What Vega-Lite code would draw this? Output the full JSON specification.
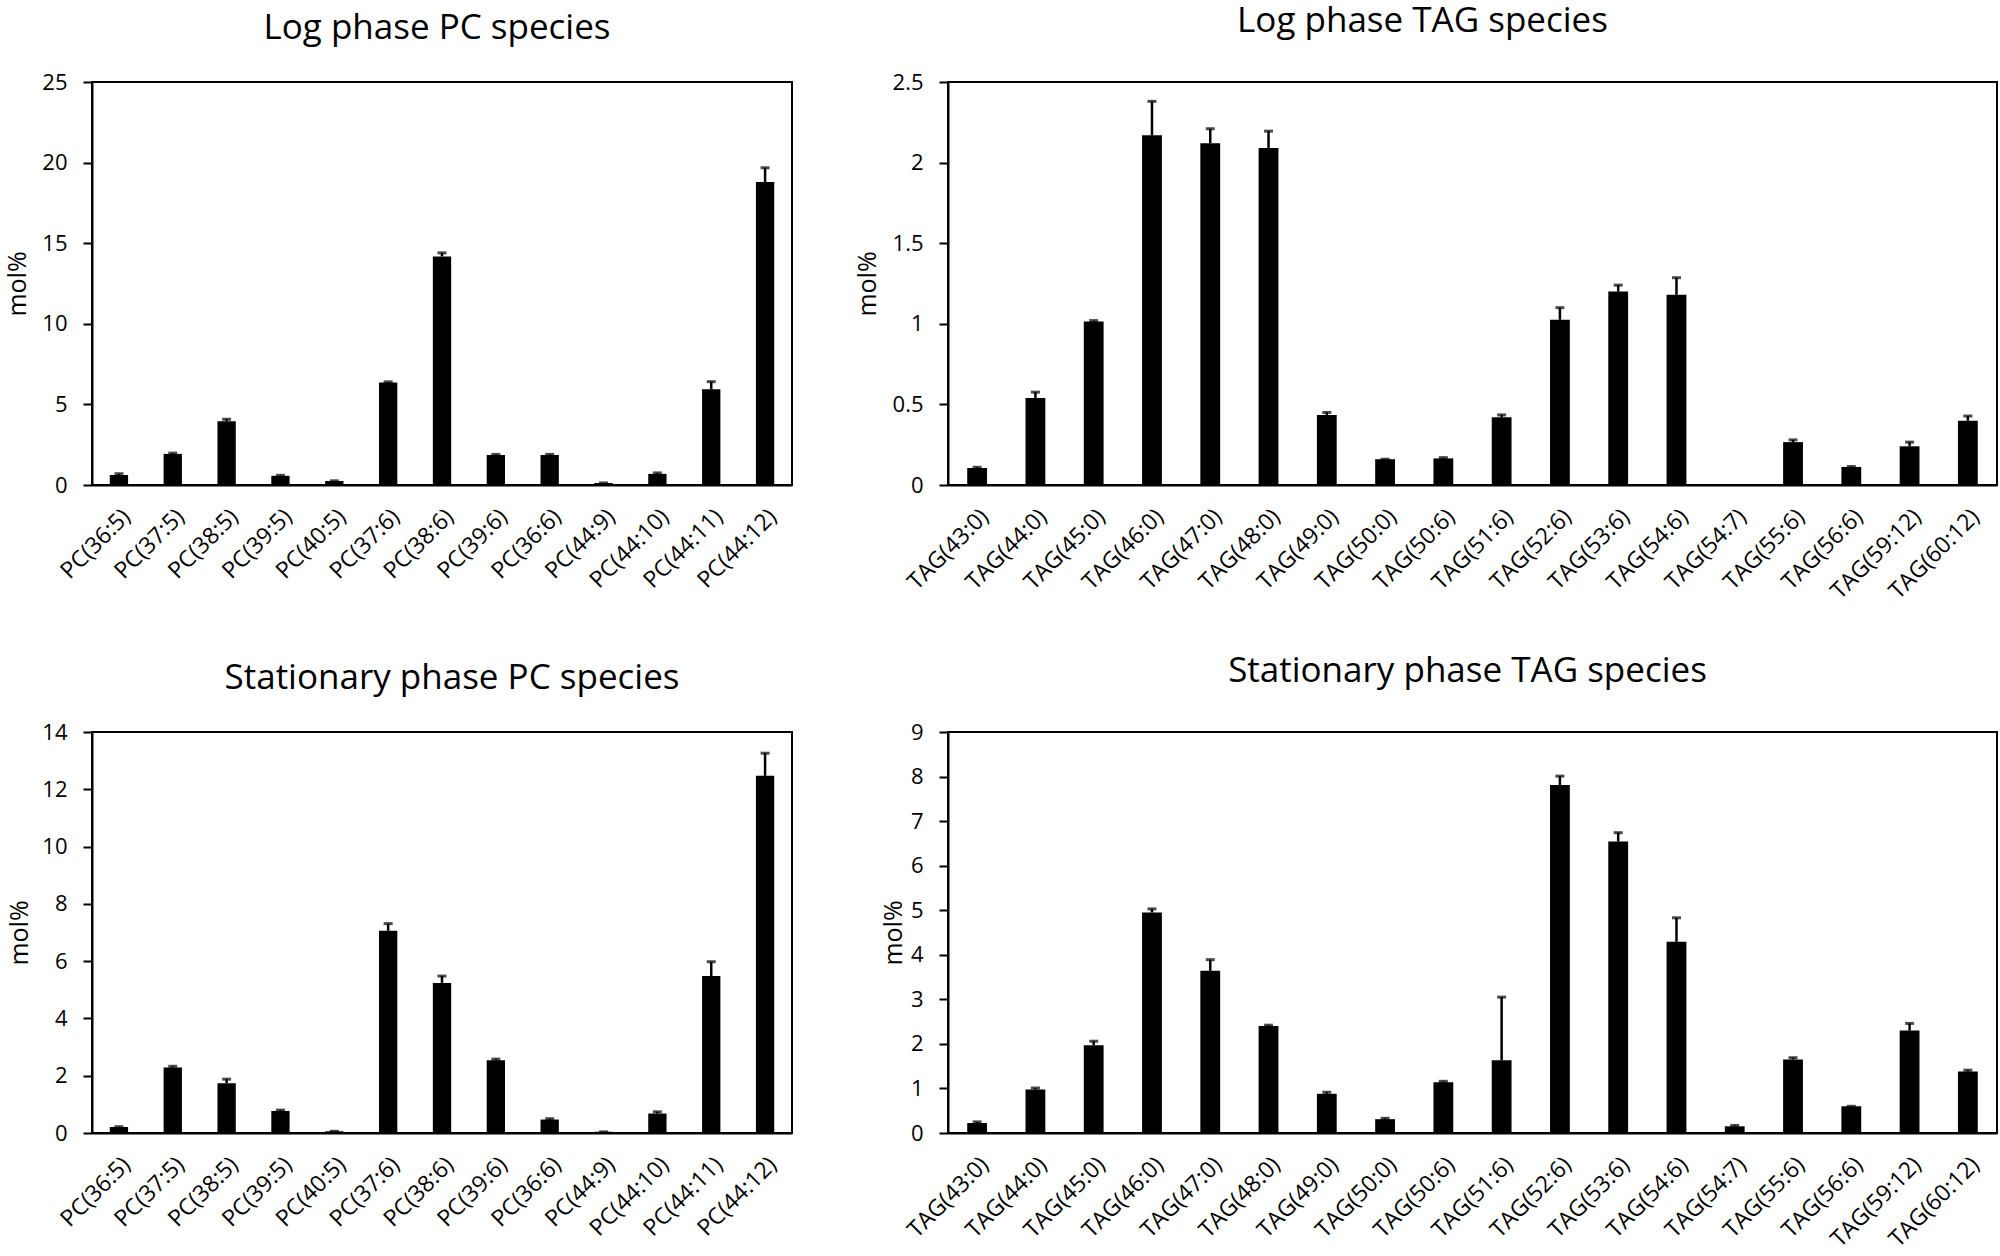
{
  "$schema": "https://vega.github.io/schema/vega-lite/v6.json",
  "background": "white",
  "padding": {"left": 4, "top": 3, "right": 5, "bottom": 5},
  "bounds": "flush",
  "columns": 2,
  "spacing": {"row": 247, "column": 156},
  "datasets": {
    "logPC": [
      {"species": "PC(36:5)", "value": 0.62, "upper": 0.70},
      {"species": "PC(37:5)", "value": 1.93, "upper": 1.98},
      {"species": "PC(38:5)", "value": 3.96, "upper": 4.08},
      {"species": "PC(39:5)", "value": 0.57, "upper": 0.60},
      {"species": "PC(40:5)", "value": 0.25, "upper": 0.26},
      {"species": "PC(37:6)", "value": 6.36, "upper": 6.40},
      {"species": "PC(38:6)", "value": 14.18, "upper": 14.4},
      {"species": "PC(39:6)", "value": 1.86, "upper": 1.90},
      {"species": "PC(36:6)", "value": 1.86, "upper": 1.90},
      {"species": "PC(44:9)", "value": 0.12, "upper": 0.13},
      {"species": "PC(44:10)", "value": 0.69, "upper": 0.75},
      {"species": "PC(44:11)", "value": 5.94, "upper": 6.41},
      {"species": "PC(44:12)", "value": 18.79, "upper": 19.68}
    ],
    "logTAG": [
      {"species": "TAG(43:0)", "value": 0.105, "upper": 0.11},
      {"species": "TAG(44:0)", "value": 0.54, "upper": 0.576},
      {"species": "TAG(45:0)", "value": 1.015, "upper": 1.02},
      {"species": "TAG(46:0)", "value": 2.17, "upper": 2.38},
      {"species": "TAG(47:0)", "value": 2.12, "upper": 2.21},
      {"species": "TAG(48:0)", "value": 2.09, "upper": 2.195},
      {"species": "TAG(49:0)", "value": 0.435, "upper": 0.45},
      {"species": "TAG(50:0)", "value": 0.16, "upper": 0.16},
      {"species": "TAG(50:6)", "value": 0.165, "upper": 0.17},
      {"species": "TAG(51:6)", "value": 0.42, "upper": 0.435},
      {"species": "TAG(52:6)", "value": 1.025, "upper": 1.10},
      {"species": "TAG(53:6)", "value": 1.20, "upper": 1.24},
      {"species": "TAG(54:6)", "value": 1.18, "upper": 1.286},
      {"species": "TAG(54:7)", "value": 0, "upper": 0},
      {"species": "TAG(55:6)", "value": 0.266, "upper": 0.28},
      {"species": "TAG(56:6)", "value": 0.112, "upper": 0.115},
      {"species": "TAG(59:12)", "value": 0.24, "upper": 0.266},
      {"species": "TAG(60:12)", "value": 0.398, "upper": 0.428}
    ],
    "statPC": [
      {"species": "PC(36:5)", "value": 0.21, "upper": 0.22},
      {"species": "PC(37:5)", "value": 2.29, "upper": 2.33},
      {"species": "PC(38:5)", "value": 1.74, "upper": 1.88},
      {"species": "PC(39:5)", "value": 0.77, "upper": 0.80},
      {"species": "PC(40:5)", "value": 0.06, "upper": 0.06},
      {"species": "PC(37:6)", "value": 7.06, "upper": 7.31},
      {"species": "PC(38:6)", "value": 5.24, "upper": 5.48},
      {"species": "PC(39:6)", "value": 2.54, "upper": 2.58},
      {"species": "PC(36:6)", "value": 0.47, "upper": 0.50},
      {"species": "PC(44:9)", "value": 0.04, "upper": 0.04},
      {"species": "PC(44:10)", "value": 0.68, "upper": 0.74},
      {"species": "PC(44:11)", "value": 5.48, "upper": 5.98},
      {"species": "PC(44:12)", "value": 12.47, "upper": 13.26}
    ],
    "statTAG": [
      {"species": "TAG(43:0)", "value": 0.225, "upper": 0.25},
      {"species": "TAG(44:0)", "value": 0.975, "upper": 1.01},
      {"species": "TAG(45:0)", "value": 1.97, "upper": 2.06},
      {"species": "TAG(46:0)", "value": 4.95, "upper": 5.03},
      {"species": "TAG(47:0)", "value": 3.64, "upper": 3.89},
      {"species": "TAG(48:0)", "value": 2.40, "upper": 2.42},
      {"species": "TAG(49:0)", "value": 0.88, "upper": 0.915},
      {"species": "TAG(50:0)", "value": 0.31, "upper": 0.33},
      {"species": "TAG(50:6)", "value": 1.14, "upper": 1.16},
      {"species": "TAG(51:6)", "value": 1.63, "upper": 3.05},
      {"species": "TAG(52:6)", "value": 7.81, "upper": 8.01},
      {"species": "TAG(53:6)", "value": 6.54, "upper": 6.74},
      {"species": "TAG(54:6)", "value": 4.29, "upper": 4.83},
      {"species": "TAG(54:7)", "value": 0.15, "upper": 0.17},
      {"species": "TAG(55:6)", "value": 1.65, "upper": 1.69},
      {"species": "TAG(56:6)", "value": 0.60, "upper": 0.60},
      {"species": "TAG(59:12)", "value": 2.30, "upper": 2.46},
      {"species": "TAG(60:12)", "value": 1.38, "upper": 1.41}
    ]
  },
  "concat": [
    {
      "width": 700, "height": 403,
      "data": {"name": "logPC"},
      "title": {"text": "Log phase PC species", "dx": -5, "offset": 25},
      "encoding": {"x": {"field": "species", "type": "nominal", "sort": null, "title": null, "scale": {"paddingInner": 0.66, "paddingOuter": 0.33}}},
      "layer": [
        {"mark": {"type": "bar", "color": "black"}, "encoding": {"y": {"field": "value", "type": "quantitative", "title": "mol%", "scale": {"domain": [0, 25], "nice": false}, "axis": {"values": [0, 5, 10, 15, 20, 25], "titleX": -75}}}},
        {"transform": [{"filter": "datum.upper > 0"}], "mark": {"type": "rule", "color": "black", "strokeWidth": 2.5}, "encoding": {"y": {"field": "value", "type": "quantitative", "title": "mol%"}, "y2": {"field": "upper"}}},
        {"transform": [{"filter": "datum.upper > 0"}], "mark": {"type": "tick", "color": "black", "size": 9, "thickness": 3}, "encoding": {"y": {"field": "upper", "type": "quantitative", "title": "mol%"}}}
      ]
    },
    {
      "width": 1049, "height": 403,
      "data": {"name": "logTAG"},
      "title": {"text": "Log phase TAG species", "dx": -50, "offset": 32},
      "encoding": {"x": {"field": "species", "type": "nominal", "sort": null, "title": null, "scale": {"paddingInner": 0.66, "paddingOuter": 0.33}}},
      "layer": [
        {"mark": {"type": "bar", "color": "black"}, "encoding": {"y": {"field": "value", "type": "quantitative", "title": "mol%", "scale": {"domain": [0, 2.5], "nice": false}, "axis": {"values": [0, 0.5, 1, 1.5, 2, 2.5], "format": "~g", "titleX": -81}}}},
        {"transform": [{"filter": "datum.upper > 0"}], "mark": {"type": "rule", "color": "black", "strokeWidth": 2.5}, "encoding": {"y": {"field": "value", "type": "quantitative", "title": "mol%"}, "y2": {"field": "upper"}}},
        {"transform": [{"filter": "datum.upper > 0"}], "mark": {"type": "tick", "color": "black", "size": 9, "thickness": 3}, "encoding": {"y": {"field": "upper", "type": "quantitative", "title": "mol%"}}}
      ]
    },
    {
      "width": 700, "height": 401,
      "data": {"name": "statPC"},
      "title": {"text": "Stationary phase PC species", "dx": 10, "offset": 25},
      "encoding": {"x": {"field": "species", "type": "nominal", "sort": null, "title": null, "scale": {"paddingInner": 0.66, "paddingOuter": 0.33}}},
      "layer": [
        {"mark": {"type": "bar", "color": "black"}, "encoding": {"y": {"field": "value", "type": "quantitative", "title": "mol%", "scale": {"domain": [0, 14], "nice": false}, "axis": {"values": [0, 2, 4, 6, 8, 10, 12, 14], "titleX": -73}}}},
        {"transform": [{"filter": "datum.upper > 0"}], "mark": {"type": "rule", "color": "black", "strokeWidth": 2.5}, "encoding": {"y": {"field": "value", "type": "quantitative", "title": "mol%"}, "y2": {"field": "upper"}}},
        {"transform": [{"filter": "datum.upper > 0"}], "mark": {"type": "tick", "color": "black", "size": 9, "thickness": 3}, "encoding": {"y": {"field": "upper", "type": "quantitative", "title": "mol%"}}}
      ]
    },
    {
      "width": 1049, "height": 401,
      "data": {"name": "statTAG"},
      "title": {"text": "Stationary phase TAG species", "dx": -5, "offset": 32},
      "encoding": {"x": {"field": "species", "type": "nominal", "sort": null, "title": null, "scale": {"paddingInner": 0.66, "paddingOuter": 0.33}}},
      "layer": [
        {"mark": {"type": "bar", "color": "black"}, "encoding": {"y": {"field": "value", "type": "quantitative", "title": "mol%", "scale": {"domain": [0, 9], "nice": false}, "axis": {"values": [0, 1, 2, 3, 4, 5, 6, 7, 8, 9], "titleX": -55}}}},
        {"transform": [{"filter": "datum.upper > 0"}], "mark": {"type": "rule", "color": "black", "strokeWidth": 2.5}, "encoding": {"y": {"field": "value", "type": "quantitative", "title": "mol%"}, "y2": {"field": "upper"}}},
        {"transform": [{"filter": "datum.upper > 0"}], "mark": {"type": "tick", "color": "black", "size": 9, "thickness": 3}, "encoding": {"y": {"field": "upper", "type": "quantitative", "title": "mol%"}}}
      ]
    }
  ],
  "config": {
    "font": "Open Sans",
    "view": {"stroke": "black", "strokeWidth": 2},
    "axis": {"grid": false, "domainColor": "black", "domainWidth": 2, "tickColor": "black", "tickWidth": 2, "labelColor": "black", "titleColor": "black", "labelFont": "Open Sans", "titleFont": "Open Sans", "titleFontWeight": "normal"},
    "axisY": {"tickSize": 9, "labelPadding": 16, "labelFontSize": 22, "titleFontSize": 25, "titleBaseline": "middle"},
    "axisX": {"ticks": false, "labelAngle": -45, "labelAlign": "right", "labelBaseline": "top", "labelFontSize": 23, "labelPadding": 20, "labelOverlap": false, "labelLimit": 0},
    "title": {"font": "Open Sans", "fontSize": 35, "fontWeight": "normal", "color": "black", "baseline": "alphabetic", "frame": "group", "anchor": "middle"}
  }
}
